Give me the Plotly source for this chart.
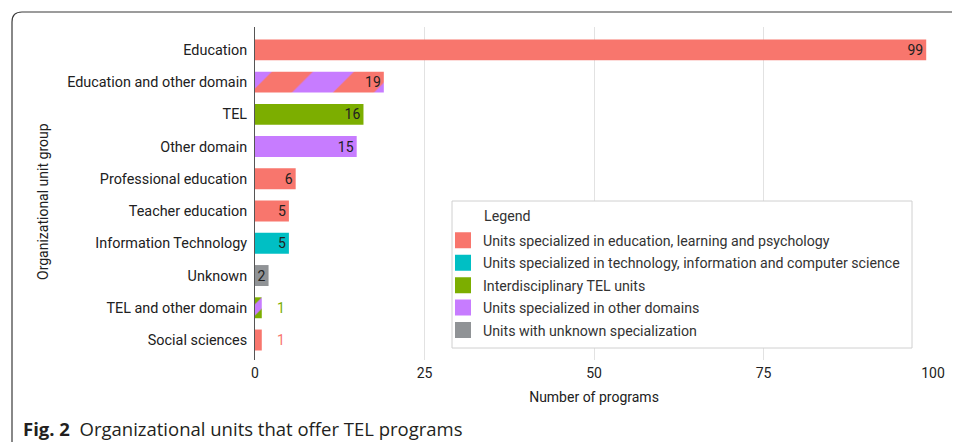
import plotly.graph_objects as go

# ---------------- data ----------------
categories = [
    "Education",
    "Education and other domain",
    "TEL",
    "Other domain",
    "Professional education",
    "Teacher education",
    "Information Technology",
    "Unknown",
    "TEL and other domain",
    "Social sciences",
]
values = [99, 19, 16, 15, 6, 5, 5, 2, 1, 1]
groups = ["edu", "edu+other", "tel", "other", "edu", "edu", "tech", "unknown", "tel+other", "edu"]

legend_keys = ["edu", "tech", "tel", "other", "unknown"]
legend_names = {
    "edu": "Units specialized in education, learning and psychology",
    "tech": "Units specialized in technology, information and computer science",
    "tel": "Interdisciplinary TEL units",
    "other": "Units specialized in other domains",
    "unknown": "Units with unknown specialization",
}
colors = {
    "edu": "#F8766D",
    "tech": "#00BFC4",
    "tel": "#7CAE00",
    "other": "#C77CFF",
    "unknown": "#909396",
}
# mixed groups: (background colour key, stripe colour key)
mixed = {"edu+other": ("other", "edu"), "tel+other": ("other", "tel")}

x_title = "Number of programs"
y_title = "Organizational unit group"
legend_title = "Legend"
caption_bold = "Fig. 2"
caption_text = "Organizational units that offer TEL programs"

# ---------------- layout geometry (pixels) ----------------
OFF = 8  # default page body margin
W, H = 960 - OFF, 442 - OFF
L, R, T, B = 255 - OFF, 27, 27 - OFF, 82
pw, ph = W - L - R, H - T - B


def px(xp):
    return (xp - OFF - L) / pw


def py(yp):
    return (H - B - (yp - OFF)) / ph


FONT = "Roboto"
TXT = "#212121"
LEG = "#333333"
BAR_W = 0.65

fig = go.Figure()

for key in legend_keys:
    ys = [c for c, g in zip(categories, groups) if g == key]
    xs = [v for v, g in zip(values, groups) if g == key]
    txt = [str(v) if v > 1 else "" for v in xs]
    fig.add_trace(go.Bar(
        x=xs, y=ys, orientation="h", showlegend=False,
        marker=dict(color=colors[key], line=dict(width=0)),
        width=BAR_W, text=txt, textposition="inside", insidetextanchor="end",
        constraintext="none", textangle=0,
        textfont=dict(family=FONT, size=14, color=TXT),
        hoverinfo="x+y",
    ))

for key, (bg, fg) in mixed.items():
    ys = [c for c, g in zip(categories, groups) if g == key]
    xs = [v for v, g in zip(values, groups) if g == key]
    txt = [str(v) if v > 1 else "" for v in xs]
    size = 58 if max(xs) > 1 else 16
    fig.add_trace(go.Bar(
        x=xs, y=ys, orientation="h", showlegend=False,
        marker=dict(color=colors[bg], line=dict(width=0),
                    pattern=dict(shape="/", fgcolor=colors[fg], bgcolor=colors[bg],
                                 size=size, solidity=0.5, fillmode="replace")),
        width=BAR_W, text=txt, textposition="inside", insidetextanchor="end",
        constraintext="none", textangle=0,
        textfont=dict(family=FONT, size=14, color=TXT),
        hoverinfo="x+y",
    ))

# legend entries (square swatches)
for key in legend_keys:
    fig.add_trace(go.Scatter(
        x=[None], y=[None], mode="markers", name=legend_names[key],
        marker=dict(symbol="square", size=16, color=colors[key]),
        legendgroup=key, hoverinfo="skip",
    ))

# labels for bars too small to hold text: placed right of the bar in bar colour
for c, v, g in zip(categories, values, groups):
    if v <= 1:
        col = colors[mixed[g][1]] if g in mixed else colors[g]
        fig.add_annotation(x=v, y=c, xref="x", yref="y", text=str(v), showarrow=False,
                           xanchor="center", xshift=19,
                           font=dict(family=FONT, size=14, color=col))

# y axis title
fig.add_annotation(x=px(43), y=py(201), xref="paper", yref="paper", text=y_title,
                   textangle=-90, showarrow=False, xanchor="center", yanchor="middle",
                   font=dict(family=FONT, size=14, color=TXT))

# caption
fig.add_annotation(x=px(21), y=py(428), xref="paper", yref="paper",
                   text="<b>" + caption_bold + "</b>\u00a0\u00a0" + caption_text,
                   showarrow=False, xanchor="left", yanchor="middle",
                   font=dict(family="Open Sans", size=18.5, color="#231f20"))

# rounded outer frame
x0, y0 = px(12), py(12)
x1, y1 = px(975), py(460)
rx, ry = 10 / pw, 10 / ph
fig.add_shape(type="path", xref="paper", yref="paper",
              path=f"M {x0},{y1} L {x0},{y0 - ry} Q {x0},{y0} {x0 + rx},{y0} L {x1},{y0}",
              line=dict(color="#3a3a3a", width=1.2))

# legend box (white panel over the grid) and its title
fig.add_shape(type="rect", xref="paper", yref="paper", layer="above",
              x0=px(452), x1=px(912), y0=py(348), y1=py(201),
              fillcolor="white", line=dict(color="#d0d0d0", width=1))
fig.add_annotation(x=px(482), y=py(216), xref="paper", yref="paper", text=legend_title,
                   showarrow=False, xanchor="left", yanchor="middle",
                   font=dict(family=FONT, size=14.2, color=LEG))

fig.update_layout(
    width=W, height=H, autosize=False,
    margin=dict(l=L, r=R, t=T, b=B, pad=0),
    paper_bgcolor="white", plot_bgcolor="white",
    barmode="overlay",
    font=dict(family=FONT, size=14, color=TXT),
    showlegend=True,
    legend=dict(
        x=px(443), y=py(224.5), xanchor="left", yanchor="top",
        bgcolor="rgba(0,0,0,0)", borderwidth=0,
        font=dict(family=FONT, size=14.2, color=LEG),
        traceorder="grouped", tracegroupgap=1.0, itemclick=False, itemdoubleclick=False,
    ),
    xaxis=dict(
        range=[0, 100], tickvals=[0, 25, 50, 75, 100],
        showgrid=True, gridcolor="#e2e2e2", gridwidth=1,
        zeroline=False, showline=False, ticks="", ticklabelstandoff=3,
        tickfont=dict(family=FONT, size=14, color=TXT),
        title=dict(text=x_title, font=dict(family=FONT, size=14, color=TXT), standoff=12),
        fixedrange=True,
    ),
    yaxis=dict(
        type="category", categoryorder="array", categoryarray=categories,
        range=[len(categories) - 1 + 0.62, -0.71],
        showgrid=False, zeroline=False, showline=True, linecolor="#555555", linewidth=1,
        ticks="", ticklabelstandoff=4,
        tickfont=dict(family=FONT, size=14.4, color=TXT),
        fixedrange=True,
    ),
)

fig.write_html("out.html")
